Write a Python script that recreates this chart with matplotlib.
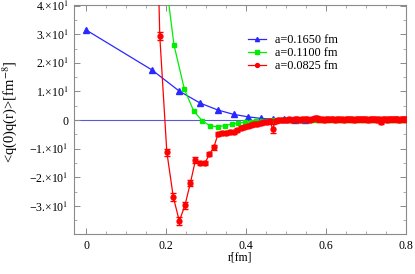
import numpy as np
import matplotlib
matplotlib.use("Agg")
import matplotlib.pyplot as plt
from matplotlib.lines import Line2D
from matplotlib.ticker import FuncFormatter, MultipleLocator

plt.rcParams["font.family"] = ["Liberation Serif", "DejaVu Serif"]
plt.rcParams["mathtext.fontset"] = "stix"

# lattice distances r = a*sqrt(n)
A_BLUE, A_GREEN, A_RED = 0.1650, 0.1100, 0.0825
n_blue = list(range(0, 12))
v_blue = [31.5, 17.5, 10.1, 5.9, 3.5, 2.0, 1.15, 0.6, 0.35, 0.25, 0.15, 0.1]

n_green = list(range(2, 53))
v_green = [110, 59, 26.2, 10.8, 3.1, -0.3, -2.1, -2.3, -1.9, -1.4,
           -1.0, -0.8, -0.6, -0.4, -0.3, -0.2, -0.1, -0.1, 0.0, 0.05,
           0.0, 0.1, 0.05, 0.1, 0.0, 0.1, 0.05, 0.1, 0.0, 0.05,
           0.1, 0.0, 0.05, 0.1, 0.0, 0.05, 0.0, 0.1, 0.05, 0.0,
           0.05, 0.1, 0.0, 0.05, 0.0, 0.05, 0.1, 0.0, 0.05, 0.0, 0.05]

n_red = list(range(4, 95))
v_red = [140, 29.3, -11.2, -26.9, -35.3, -29.7, -22.0, -14.0, -15.0, -15.0,
         -11.9, -9.5, -4.9, -4.4, -4.5, -4.3, -4.1, -3.4, -2.9, -2.5,
         -2.1, -1.7, -1.5, -1.2, -1.0, -0.8, -0.6, -0.4, -3.0, -0.3,
         -0.1, 0.0, 0.1, -0.1, 0.2, 0.1, 0.3, 0.2, 0.0, 0.3,
         0.5, 0.2, 0.1, 0.4, 0.8, 0.6, 0.2, 0.3, 0.1, 0.4,
         0.2, 0.5, 0.3, 0.1, 0.4, 0.2, 0.3, 0.0, 0.3, 0.5,
         0.2, 0.4, 0.1, 0.3, 0.2, 0.5, 0.3, 0.2, 0.4, 0.1,
         0.3, 0.2, 0.4, 0.3, 0.1, 0.5, -0.6, 0.2, 0.3, 0.1,
         0.4, 0.2, 0.3, 0.5, 0.2, 0.3, 0.1, 0.4, 0.2, 0.3, 0.2]
e_red = [3.0, 1.5, 1.2, 1.3, 1.3, 1.2, 1.0, 1.0, 0.8, 0.8,
         0.8, 0.8, 0.8, 0.7, 0.7, 0.7, 0.7, 0.7, 0.7, 0.7,
         0.7, 0.7, 0.7, 0.7, 0.7, 0.7, 0.7, 0.7, 1.5, 0.7] + [0.7] * 61
e_green = [0.3] * len(v_green)

labels = ["a=0.1650 fm", "a=0.1100 fm", "a=0.0825 fm"]
C_BLUE, C_GREEN, C_RED = "#2828ff", "#00ee00", "#ff0000"

r_blue = A_BLUE * np.sqrt(n_blue)
r_green = A_GREEN * np.sqrt(n_green)
r_red = A_RED * np.sqrt(n_red)

fig = plt.figure(figsize=(4.15, 2.74), dpi=100)
ax = fig.add_axes([74/415, 1-234/274, 332/415, 229/274])

ax.axhline(0, color="#5a5ad8", lw=0.8, zorder=1)
ax.plot(r_blue, v_blue, color=C_BLUE, lw=0.9, marker="^", ms=4, zorder=3)
ax.errorbar(r_green, v_green, yerr=e_green, color=C_GREEN, lw=0.9,
            marker="s", ms=3.5, capsize=1.5, elinewidth=0.7, zorder=4)
ax.errorbar(r_red, v_red, yerr=e_red, color=C_RED, lw=0.9,
            marker="o", ms=3.5, capsize=2.5, elinewidth=0.8, zorder=5)

ax.set_xlim(-0.03, 0.8)
ax.set_ylim(-39.8, 40.2)
ax.xaxis.set_major_locator(MultipleLocator(0.2))
ax.xaxis.set_minor_locator(MultipleLocator(0.05))
ax.set_yticks([-30, -20, -10, 0, 10, 20, 30, 40])
ax.yaxis.set_minor_locator(MultipleLocator(5))

def yfmt(v, pos):
    if abs(v) < 1e-9:
        return "0"
    k = int(round(v / 10))
    s = "\u2212" if k < 0 else ""
    return f"{s}{abs(k)}.\u00d710$^{{1}}$"

ax.yaxis.set_major_formatter(FuncFormatter(yfmt))
ax.xaxis.set_major_formatter(FuncFormatter(lambda v, p: "0" if abs(v) < 1e-9 else f"{v:.1f}"))

for s in ax.spines.values():
    s.set_color("#8a8a8a"); s.set_linewidth(0.8)
ax.tick_params(which="both", direction="in", top=True, right=True,
               colors="#8a8a8a", labelcolor="black", labelsize=8.5)
ax.tick_params(which="major", length=4, width=0.7, pad=4)
ax.tick_params(which="minor", length=2, width=0.5)

fig.text(10/415, 1-112/274, "<q(0)q(r)>[fm$^{-8}$]", rotation=90,
         ha="center", va="center", fontsize=10.5)
fig.text(240/415, 1-258/274, "r[fm]", ha="center", va="center", fontsize=8.5)

handles = [Line2D([], [], color=C_BLUE, lw=0.9, marker="^", ms=3),
           Line2D([], [], color=C_GREEN, lw=0.9, marker="s", ms=2.8),
           Line2D([], [], color=C_RED, lw=0.9, marker="o", ms=2.8)]
ax.legend(handles, labels, loc="upper left", bbox_to_anchor=(0.524, 0.872),
          frameon=False, fontsize=8.8, handlelength=1.5, handletextpad=0.7,
          labelspacing=0.06, borderpad=0, borderaxespad=0)

fig.savefig("out.png", dpi=100)
